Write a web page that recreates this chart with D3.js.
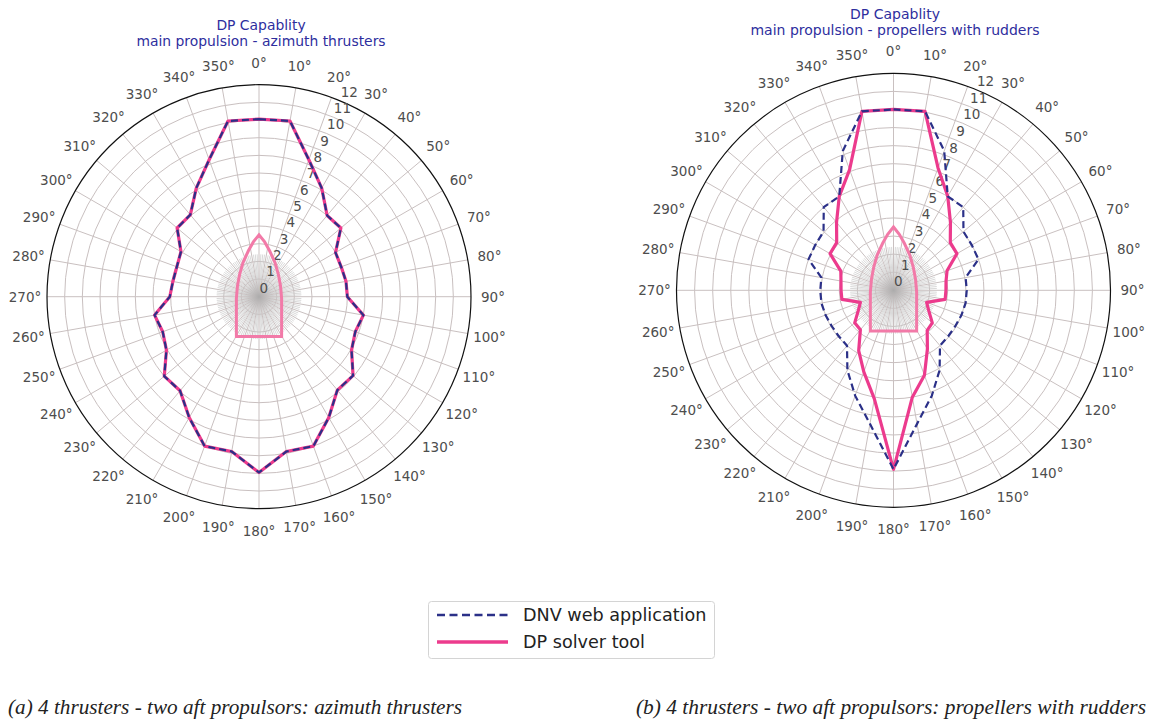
<!DOCTYPE html>
<html><head><meta charset="utf-8">
<script src="https://cdn.jsdelivr.net/npm/d3@7"></script>
<style>body{margin:0;background:#fff} svg{display:block}</style>
</head><body><svg id="c" width="1150" height="722"></svg>
<script>
// ---- data ----
const angles = [0,10,20,30,40,50,60,70,80,90,100,110,120,130,140,150,160,170,
                180,190,200,210,220,230,240,250,260,270,280,290,300,310,320,330,340,350];
const angleTickLabels = ["0°","10°","20°","30°","40°","50°","60°","70°","80°","90°","100°","110°","120°","130°","140°","150°","160°","170°",
                "180°","190°","200°","210°","220°","230°","240°","250°","260°","270°","280°","290°","300°","310°","320°","330°","340°","350°"];
const radialTicks = [0,1,2,3,4,5,6,7,8,9,10,11,12];
const spokeAngles = [2.5,5,7.5,12.5,15,17.5,22.5,25,27.5,32.5,35,37.5,42.5,45,47.5,52.5,55,57.5,62.5,65,67.5,72.5,75,77.5,82.5,85,87.5,
                     92.5,95,97.5,102.5,105,107.5,112.5,115,117.5,122.5,125,127.5,132.5,135,137.5,142.5,145,147.5,152.5,155,157.5,162.5,165,167.5,172.5,175,177.5,
                     182.5,185,187.5,192.5,195,197.5,202.5,205,207.5,212.5,215,217.5,222.5,225,227.5,232.5,235,237.5,242.5,245,247.5,252.5,255,257.5,262.5,265,267.5,
                     272.5,275,277.5,282.5,285,287.5,292.5,295,297.5,302.5,305,307.5,312.5,315,317.5,322.5,325,327.5,332.5,335,337.5,342.5,345,347.5,352.5,355,357.5];

// (a) azimuth thrusters
const dnvA = [10.05,10.1,8.25,7.1,6.0,6.05,5.0,4.95,5.0,5.0,6.0,5.8,6.05,6.95,6.9,7.9,9.0,8.9,
              9.95,8.9,9.0,7.9,6.95,7.0,6.05,5.8,6.0,5.05,4.95,4.95,5.1,6.05,6.05,7.1,8.25,10.1];
const dpA  = [10.05,10.1,8.25,7.1,6.0,6.05,5.0,4.95,5.0,5.0,6.0,5.8,6.05,6.95,6.9,7.9,9.0,8.9,
              9.95,8.9,9.0,7.9,6.95,7.0,6.05,5.8,6.0,5.05,4.95,4.95,5.1,6.05,6.05,7.1,8.25,10.1];
// (b) propellers with rudders
const dnvB = [10.0,10.05,8.2,6.0,6.0,5.05,5.0,5.0,4.05,4.05,4.05,4.0,3.95,3.95,4.0,5.1,6.2,7.5,
              9.9,7.5,6.2,5.1,4.0,3.95,3.95,4.0,4.05,4.05,4.05,5.0,5.0,5.05,6.0,6.0,8.2,10.05];
const dpB  = [10.0,10.05,7.2,6.0,4.9,4.1,4.05,3.15,2.95,2.9,2.9,1.95,2.25,2.8,2.9,3.75,5.0,6.0,
              9.9,6.1,4.8,3.85,2.85,2.8,2.25,1.95,2.9,2.9,2.95,3.1,4.05,4.1,4.9,6.0,7.1,10.05];

// vessel outline (radial units, x starboard, y forward)
const hullX = [-1.28,1.28,1.28,1.22,1.1,0.9,0.6,0.32,0,-0.32,-0.6,-0.9,-1.1,-1.22,-1.28];
const hullY = [-2.25,-2.25,-0.1,0.6,1.25,1.95,2.6,3.1,3.5,3.1,2.6,1.95,1.25,0.6,-0.1];

const titlesA = ["DP Capablity","main propulsion - azimuth thrusters"];
const titlesB = ["DP Capablity","main propulsion - propellers with rudders"];
const legendLabels = ["DNV web application","DP solver tool"];
const captions = ["(a) 4 thrusters - two aft propulsors: azimuth thrusters",
                  "(b) 4 thrusters - two aft propulsors: propellers with rudders"];

// ---- drawing ----
const svg = d3.select("#c");
svg.append("rect").attr("width",1150).attr("height",722).attr("fill","#fff");
const defs = svg.append("defs");
const grad = defs.append("radialGradient").attr("id","blob");
grad.append("stop").attr("offset","0%").attr("stop-color","#a9a9a9").attr("stop-opacity",0.9);
grad.append("stop").attr("offset","100%").attr("stop-color","#c8c8c8").attr("stop-opacity",0);

const PINK = "#ec3b8d", HULL = "#f27aa8", NAVY = "#2b3088", GRID = "#c9c0c0", TXT = "#4d4d4d";
const FONT = "DejaVu Sans, sans-serif";

function polar(cfg){
  const g = svg.append("g").attr("transform",`translate(${cfg.cx},${cfg.cy})`);
  const r = d3.scaleLinear().domain([0,12]).range([0,cfg.R]);
  const a = d3.scaleLinear().domain([0,360]).range([0,2*Math.PI]);
  const pt = (deg, v) => [r(v)*Math.sin(a(deg)), -r(v)*Math.cos(a(deg))];

  g.selectAll("circle.ring").data(radialTicks.filter(d=>d>0 && d<12)).join("circle")
    .attr("r", d=>r(d)).attr("fill","none").attr("stroke",GRID).attr("stroke-width",1);
  g.selectAll("line.fs").data(spokeAngles).join("line")
    .attr("x1",0).attr("y1",0)
    .attr("x2",d=>pt(d,2.4)[0]).attr("y2",d=>pt(d,2.4)[1])
    .attr("stroke","#c8c8c8").attr("stroke-width",0.7);
  g.selectAll("line.sp").data(angles).join("line")
    .attr("x1",0).attr("y1",0)
    .attr("x2",d=>pt(d,12)[0]).attr("y2",d=>pt(d,12)[1])
    .attr("stroke",GRID).attr("stroke-width",1);
  g.append("circle").attr("r",r(0.9)).attr("fill","url(#blob)");
  g.append("circle").attr("r",r(12)).attr("fill","none").attr("stroke","#111").attr("stroke-width",1.2);

  g.selectAll("text.al").data(angles).join("text")
    .attr("x",(d)=>(cfg.R+22)*Math.sin(a(d)))
    .attr("y",(d)=>-(cfg.R+22)*Math.cos(a(d)))
    .attr("text-anchor","middle").attr("dominant-baseline","central")
    .attr("font-family",FONT).attr("font-size",13.5).attr("fill",TXT)
    .text((d,i)=>angleTickLabels[i]);
  g.selectAll("text.rl").data(radialTicks).join("text")
    .attr("x",d=>pt(22.5,d)[0]+0.5)
    .attr("y",d=>pt(22.5,d)[1]-4)
    .attr("text-anchor","start")
    .attr("font-family",FONT).attr("font-size",13.5).attr("fill",TXT)
    .text(d=>d);

  const hull = hullX.map((x,i)=>[r(x), -r(hullY[i])]);
  g.append("path").attr("d", d3.line().curve(d3.curveLinearClosed)(hull))
    .attr("fill","none").attr("stroke",HULL).attr("stroke-width",3);

  const radial = d3.lineRadial().angle(d=>a(d[0])).radius(d=>r(d[1])).curve(d3.curveLinearClosed);
  g.append("path").attr("d", radial(angles.map((d,i)=>[d,cfg.dp[i]])))
    .attr("fill","none").attr("stroke",PINK).attr("stroke-width",3.2).attr("stroke-linejoin","round");
  g.append("path").attr("d", radial(angles.map((d,i)=>[d,cfg.dnv[i]])))
    .attr("fill","none").attr("stroke",NAVY).attr("stroke-width",2.2)
    .attr("stroke-dasharray","7,4");

  svg.selectAll(null).data(cfg.titles).join("text")
    .attr("x",cfg.tx).attr("y",(d,i)=>cfg.ty[i])
    .attr("text-anchor","middle")
    .attr("font-family",FONT).attr("font-size",cfg.tfs).attr("fill","#2e2e9e")
    .text(d=>d);
}

polar({cx:259, cy:296.7, R:212, dnv:dnvA, dp:dpA, titles:titlesA, tx:261, ty:[30,45.5], tfs:13.9});
polar({cx:893.5, cy:290.3, R:217, dnv:dnvB, dp:dpB, titles:titlesB, tx:895, ty:[18.5,35], tfs:14});

const lg = svg.append("g");
lg.append("rect").attr("x",428.5).attr("y",601.5).attr("width",286).attr("height",57).attr("rx",3)
  .attr("fill","#fff").attr("stroke","#d4d4d4").attr("stroke-width",1);
lg.append("line").attr("x1",437).attr("x2",508).attr("y1",615).attr("y2",615)
  .attr("stroke",NAVY).attr("stroke-width",2.4).attr("stroke-dasharray","8,4.5");
lg.append("line").attr("x1",437).attr("x2",508).attr("y1",642).attr("y2",642)
  .attr("stroke",PINK).attr("stroke-width",3.4);
lg.selectAll("text").data(legendLabels).join("text")
  .attr("x",523).attr("y",(d,i)=>615+27*i).attr("dominant-baseline","central")
  .attr("font-family",FONT).attr("font-size",17.6).attr("fill","#222").text(d=>d);

svg.selectAll("text.cap").data(captions).join("text")
  .attr("x",(d,i)=>i===0?8:636).attr("y",714)
  .attr("font-family","Liberation Serif, serif").attr("font-style","italic")
  .attr("font-size",20).attr("fill","#222")
  .attr("textLength",(d,i)=>i===0?454:510).attr("lengthAdjust","spacingAndGlyphs")
  .text(d=>d);
</script></body></html>
